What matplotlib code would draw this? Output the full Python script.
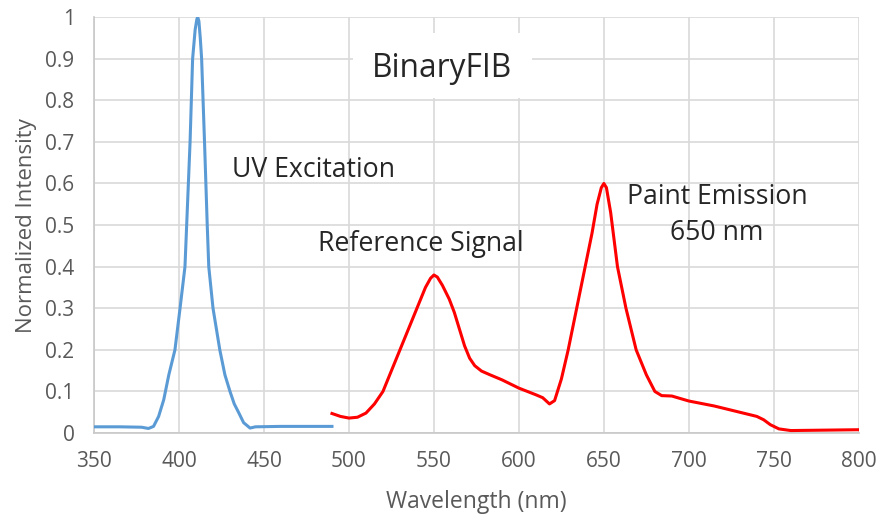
import matplotlib
matplotlib.use("Agg")
import matplotlib.pyplot as plt
from matplotlib.patches import Rectangle

plt.rcParams["font.family"] = ["Open Sans", "DejaVu Sans"]

# UV excitation (blue)
uv_nm = [350, 365, 378, 382, 385, 388, 391, 394, 397.6, 400.6, 403.5, 404.5,
         406.5, 408, 409.5, 410.5, 411, 411.7, 412.5, 413.3, 415, 416.6, 417.5,
         420, 424, 427, 430, 432.5, 435, 438, 441.8, 445, 460, 490]
uv_int = [0.015, 0.015, 0.014, 0.011, 0.016, 0.04, 0.08, 0.14, 0.2, 0.3, 0.4, 0.5,
          0.7, 0.9, 0.97, 0.995, 1.0, 0.99, 0.95, 0.9, 0.7, 0.5, 0.4,
          0.3, 0.2, 0.14, 0.1, 0.07, 0.05, 0.025, 0.012, 0.015, 0.016, 0.016]

# Reference signal + paint emission (red)
red_nm = [490, 495, 500, 505, 510, 515, 520, 525, 530, 535, 540, 545, 548, 550,
          552, 555, 559, 562, 565, 568, 571, 574, 578, 583, 590, 600, 610, 614, 618,
          621, 625, 629, 634, 639, 643, 646, 648.5, 650, 651.5, 654, 658, 663,
          669, 675, 680, 684, 690, 700, 715, 730, 740, 744, 748, 753, 760, 780, 800]
red_int = [0.047, 0.04, 0.036, 0.038, 0.048, 0.07, 0.1, 0.15, 0.2, 0.25, 0.3, 0.35,
           0.372, 0.38, 0.375, 0.355, 0.322, 0.29, 0.25, 0.21, 0.18, 0.162, 0.149, 0.14,
           0.128, 0.108, 0.092, 0.085, 0.07, 0.078, 0.13, 0.2, 0.3, 0.4, 0.48,
           0.55, 0.59, 0.6, 0.59, 0.53, 0.4, 0.3, 0.2, 0.14, 0.1, 0.09, 0.089,
           0.077, 0.065, 0.05, 0.04, 0.032, 0.02, 0.01, 0.006, 0.007, 0.008]

x_ticks = [350, 400, 450, 500, 550, 600, 650, 700, 750, 800]
y_ticks = [0, 0.1, 0.2, 0.3, 0.4, 0.5, 0.6, 0.7, 0.8, 0.9, 1]
y_tick_labels = ["0", "0.1", "0.2", "0.3", "0.4", "0.5", "0.6", "0.7", "0.8", "0.9", "1"]

fig = plt.figure(figsize=(8.79, 5.18), dpi=100, facecolor="white")
ax = fig.add_axes([0.107, 0.164, 0.870, 0.803])

ax.plot(uv_nm, uv_int, color="#5B9BD5", lw=2.2, solid_joinstyle="round", zorder=3)
ax.plot(red_nm, red_int, color="#FF0000", lw=2.2, solid_joinstyle="round", zorder=3)

ax.set_xlim(350, 800)
ax.set_ylim(0, 1)
ax.set_xticks(x_ticks)
ax.set_yticks(y_ticks)
ax.set_yticklabels(y_tick_labels)
ax.grid(True, color="#d9d9d9", lw=1.2)
ax.set_axisbelow(True)
for side in ["top", "right"]:
    ax.spines[side].set_visible(False)
for side in ["left", "bottom"]:
    ax.spines[side].set_color("#c8c8c8")
    ax.spines[side].set_linewidth(1.2)
ax.tick_params(length=0, labelsize=15, colors="#595959", pad=14)
ax.tick_params(axis="x", pad=13)

ax.set_xlabel("Wavelength (nm)", fontsize=16.5, color="#595959", labelpad=13)
ax.set_ylabel("Normalized Intensity", fontsize=16, color="#595959", labelpad=6)

# white box behind the title label
ax.add_patch(Rectangle((502.5, 0.805), 105, 0.157, fc="white", ec="none", zorder=1))
ax.text(555, 0.877, "BinaryFIB", fontsize=22.8, color="#262626", ha="center", va="center", zorder=4)
ax.text(431, 0.632, "UV Excitation", fontsize=19.2, color="#262626", ha="left", va="center")
ax.text(482, 0.454, "Reference Signal", fontsize=19.2, color="#262626", ha="left", va="center")
ax.text(716.5, 0.525, "Paint Emission\n650 nm", fontsize=19.2, color="#262626",
        ha="center", va="center", multialignment="center", linespacing=1.38)

fig.savefig("out.png", dpi=100, facecolor="white")
